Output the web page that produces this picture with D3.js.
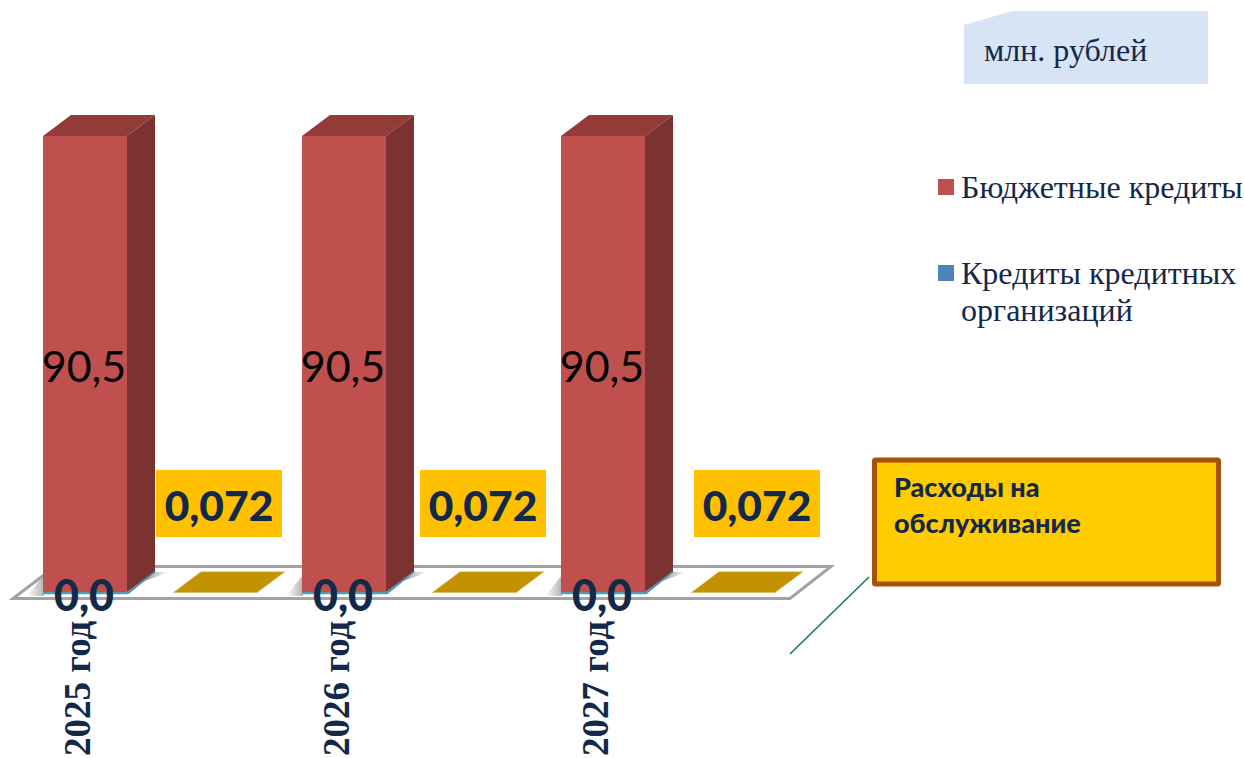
<!DOCTYPE html>
<html>
<head>
<meta charset="utf-8">
<style>
	html, body { margin: 0; padding: 0; background: #fff; }
	svg { position: absolute; top: 0; left: 0; }
	.sans { font-family: Lato, "Open Sans", sans-serif; }
	.serif { font-family: "Liberation Serif", serif; }
</style>
<script src="https://cdnjs.cloudflare.com/ajax/libs/d3/7.8.5/d3.min.js"></script>
</head>
<body>
<svg width="1244" height="758"></svg>
<script>
var years = ["2025 год", "2026 год", "2027 год"];
var budgetCredits = [90.5, 90.5, 90.5];
var bankCredits = [0, 0, 0];
var servicing = [0.072, 0.072, 0.072];
var servicingLabels = ["0,072", "0,072", "0,072"];
var legendNames = ["Бюджетные кредиты", "Кредиты кредитных организаций"];

var svg = d3.select("svg");
var navy = "#14284a";
var fmt = function(v) { return v.toFixed(1).replace(".", ","); };

var x0 = d3.scaleBand().domain(years).range([43, 820]);
var x1 = d3.scaleBand().domain(["credit", "servicing"]).range([0, 260]);
var y = d3.scaleLinear().domain([0, 90.5]).range([592, 136]);

// fake 3d depth
var barW = 84, dx = 28, dy = 21;

var defs = svg.append("defs");
var grad = defs.append("linearGradient").attr("id", "fade").attr("x1", 0).attr("x2", 1);
grad.append("stop").attr("offset", 0).attr("stop-color", "#666").attr("stop-opacity", 0.8);
grad.append("stop").attr("offset", 1).attr("stop-color", "#666").attr("stop-opacity", 0);
var gradL = defs.append("linearGradient").attr("id", "fadeL").attr("x1", 1).attr("x2", 0);
gradL.append("stop").attr("offset", 0).attr("stop-color", "#777").attr("stop-opacity", 0.55);
gradL.append("stop").attr("offset", 1).attr("stop-color", "#777").attr("stop-opacity", 0);

// floor
svg.append("polygon")
	.attr("points", "13,598.5 790,598.5 831,566.5 55,566.5")
	.attr("fill", "#fff")
	.attr("stroke", "#a3a3a3")
	.attr("stroke-width", 3);

function box(g, x, yTop, yBase, front, side, top) {
	g.append("polygon").attr("fill", top)
		.attr("points", [[x, yTop], [x + dx, yTop - dy], [x + barW + dx, yTop - dy], [x + barW, yTop]].join(" "));
	g.append("polygon").attr("fill", side)
		.attr("points", [[x + barW, yTop], [x + barW + dx, yTop - dy], [x + barW + dx, yBase - dy], [x + barW, yBase]].join(" "));
	g.append("rect").attr("fill", front)
		.attr("x", x).attr("y", yTop).attr("width", barW).attr("height", yBase - yTop);
}

years.forEach(function(year, i) {
	var g = svg.append("g");
	var bx = x0(year) + x1("credit");
	var base = y(0);

	// soft shadow on the floor
	g.append("polygon").attr("fill", "url(#fade)")
		.attr("points", [[bx + barW + 12, base - 9], [bx + barW + dx, base - dy + 1], [bx + barW + dx + 14, base - dy + 1]].join(" "));
	g.append("polygon").attr("fill", "url(#fadeL)")
		.attr("points", [[bx + 1, base + 4], [bx + 1, base - 17], [bx - 16, base + 4]].join(" "));

	// zero bar of the second series shows only as a thin edge
	g.append("polyline").attr("fill", "none").attr("stroke", "#4f9cb5").attr("stroke-width", 2.5)
		.attr("points", [[bx, base + 1 - y(bankCredits[i]) + y(0)], [bx + barW + 1, base + 1], [bx + barW + dx, base - dy]].join(" "));

	box(g, bx, y(budgetCredits[i]), base, "#c0504d", "#7c3230", "#933b39");

	// servicing marker, flat because the value is so small next to the scale
	var sx = x0(year) + x1("servicing");
	var sTop = y(servicing[i]);
	g.append("polygon").attr("fill", "#c29200").attr("stroke", "#e8c878").attr("stroke-width", 0.7)
		.attr("points", [[sx, sTop + 1], [sx + barW, sTop + 1], [sx + barW + dx, sTop - dy + 1], [sx + dx, sTop - dy + 1]].join(" "));
});

// labels
var labelBoxX = d3.scaleOrdinal().domain(years).range([156, 420, 694]);
years.forEach(function(year, i) {
	var cx = x0(year) + x1("credit") + barW / 2;

	svg.append("text").attr("class", "sans")
		.attr("x", cx - 1).attr("y", 382)
		.attr("text-anchor", "middle").attr("font-size", 43).attr("fill", "#000")
		.text(fmt(budgetCredits[i]));

	svg.append("rect")
		.attr("x", labelBoxX(year)).attr("y", 470).attr("width", 126).attr("height", 67)
		.attr("fill", "#ffc000");
	svg.append("text").attr("class", "sans")
		.attr("x", labelBoxX(year) + 63).attr("y", 521)
		.attr("text-anchor", "middle").attr("font-size", 42.5).attr("font-weight", 900).attr("fill", navy)
		.text(servicingLabels[i]);

	svg.append("text").attr("class", "serif")
		.attr("transform", "translate(" + (cx + 5) + ",756) rotate(-90)")
		.attr("font-size", 37).attr("font-weight", 700).attr("fill", navy)
		.text(year);

	svg.append("text").attr("class", "sans")
		.attr("x", cx - 1).attr("y", 611)
		.attr("text-anchor", "middle").attr("font-size", 43).attr("font-weight", 900).attr("fill", navy)
		.text(fmt(bankCredits[i]));
});

// unit note
svg.append("polygon").attr("points", "964,25 1012,11 1208,11 1208,84 964,84").attr("fill", "#d7e4f5");
svg.append("text").attr("class", "serif")
	.attr("x", 984).attr("y", 61).attr("font-size", 32).attr("fill", navy)
	.text("млн. рублей");

// legend
svg.append("rect").attr("x", 938).attr("y", 179).attr("width", 16).attr("height", 16).attr("fill", "#c0504d");
svg.append("text").attr("class", "serif")
	.attr("x", 961).attr("y", 198).attr("font-size", 32).attr("fill", navy)
	.text(legendNames[0]);
svg.append("rect").attr("x", 938).attr("y", 265).attr("width", 16).attr("height", 16).attr("fill", "#4f81bd");
var second = svg.append("text").attr("class", "serif")
	.attr("y", 284).attr("font-size", 32).attr("fill", navy);
second.append("tspan").attr("x", 961).text("Кредиты кредитных");
second.append("tspan").attr("x", 961).attr("dy", 37).text("организаций");

// callout
svg.append("line")
	.attr("x1", 869).attr("y1", 577).attr("x2", 790).attr("y2", 654)
	.attr("stroke", "#1f7a3d").attr("stroke-width", 1.6);
svg.append("rect")
	.attr("x", 874.5).attr("y", 460).attr("width", 344).attr("height", 124).attr("rx", 1)
	.attr("fill", "#ffcc00").attr("stroke", "#a5520a").attr("stroke-width", 5);
var note = svg.append("text").attr("class", "sans")
	.attr("font-size", 27).attr("font-weight", 900).attr("fill", navy);
note.append("tspan").attr("x", 894).attr("y", 497).text("Расходы на");
note.append("tspan").attr("x", 894).attr("y", 533).text("обслуживание");
</script>
</body>
</html>
